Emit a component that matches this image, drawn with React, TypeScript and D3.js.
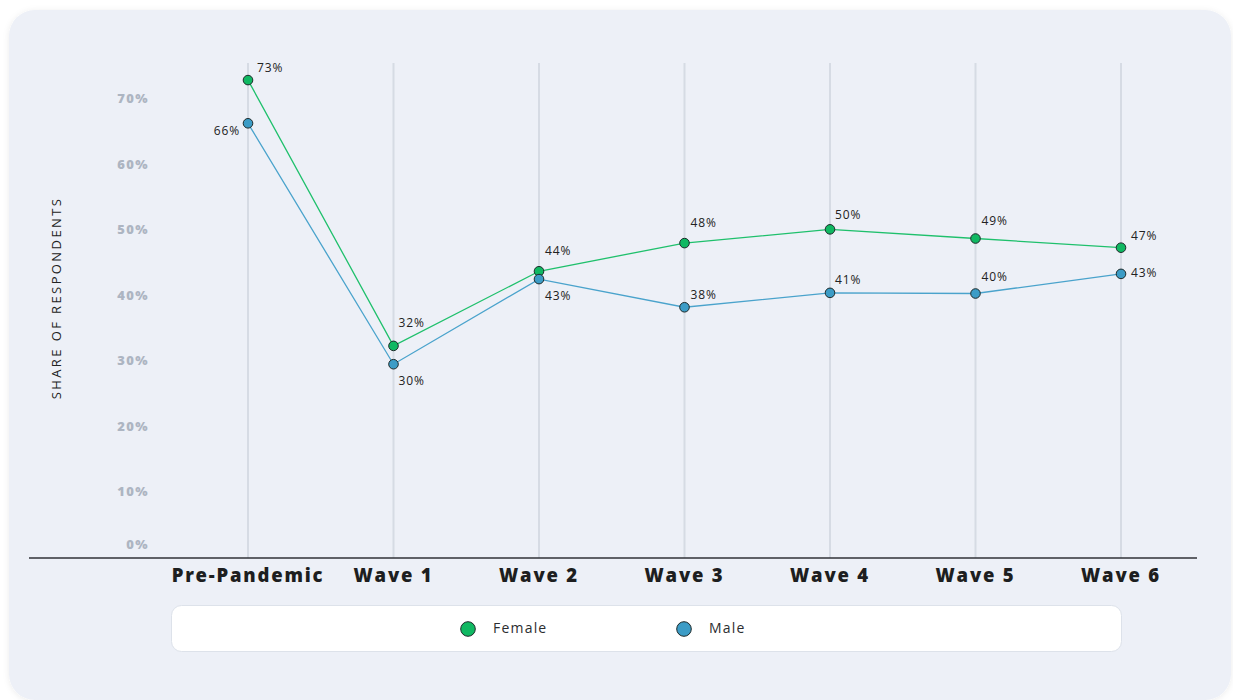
import React from "react";
import * as d3 from "d3";

// Survey waves along the x axis
const categories = ["Pre-Pandemic", "Wave 1", "Wave 2", "Wave 3", "Wave 4", "Wave 5", "Wave 6"];

// Share of respondents (%) per wave
const femaleValues = [73.0, 32.4, 43.8, 48.1, 50.2, 48.8, 47.4];
const maleValues = [66.4, 29.6, 42.6, 38.3, 40.5, 40.4, 43.4];

// Y axis ticks
const yTicks = [0, 10, 20, 30, 40, 50, 60, 70];

// Value label placement relative to each point: [dx, dy, anchor]
const femaleLabelPos: [number, number, string][] = [
  [9, -11, "start"], [5, -22, "start"], [6, -19, "start"], [6, -19, "start"],
  [5, -14, "start"], [6, -17, "start"], [10, -11, "start"],
];
const maleLabelPos: [number, number, string][] = [
  [-8, 8, "end"], [5, 18, "start"], [6, 18, "start"], [6, -11, "start"],
  [5, -12, "start"], [6, -16, "start"], [10, 0, "start"],
];

const W = 1233;
const H = 700;
const FONT = "'Open Sans', Lato, sans-serif";

const series = [
  { name: "Female", values: femaleValues, color: "#10b862", line: "#1fc06c", labels: femaleLabelPos },
  { name: "Male", values: maleValues, color: "#3c9cc6", line: "#4aa3cc", labels: maleLabelPos },
];

export default function App() {
  const x = d3.scalePoint<string>().domain(categories).range([248, 1121]);
  const y = d3.scaleLinear().domain([0, 75]).range([558, 67]);
  const baseY = y(0);

  const line = d3
    .line<number>()
    .x((_, i) => x(categories[i]) as number)
    .y((v) => y(v));

  return (
    <div style={{ position: "absolute", left: 0, top: 0 }}>
      <svg width={W} height={H} style={{ display: "block", fontFamily: FONT }}>
        <defs>
          <filter id="cardShadow" x="-5%" y="-5%" width="110%" height="115%">
            <feDropShadow dx="0" dy="1" stdDeviation="3" floodColor="#000" floodOpacity="0.08" />
          </filter>
        </defs>
        <rect x={0} y={0} width={W} height={H} fill="#ffffff" />
        <rect x={9} y={10} width={1222} height={690} rx={26} fill="#edf0f7" filter="url(#cardShadow)" />

        {/* vertical grid at each wave */}
        {categories.map((c) => (
          <line
            key={c}
            x1={x(c)}
            x2={x(c)}
            y1={63}
            y2={baseY}
            stroke="#d6dbe4"
            strokeWidth={2}
          />
        ))}

        {/* baseline */}
        <line x1={29} x2={1197} y1={baseY} y2={baseY} stroke="#2f3237" strokeWidth={1.3} />

        {/* y tick labels */}
        {yTicks.map((t) => (
          <text
            key={t}
            x={149}
            y={Math.min(y(t), baseY - 12)}
            textAnchor="end"
            dominantBaseline="middle"
            fontSize={13}
            fontWeight={800}
            letterSpacing={1.4}
            fill="#adb5c2"
          >
            {t}%
          </text>
        ))}

        {/* y axis title */}
        <text
          transform={`translate(61, 298) rotate(-90)`}
          textAnchor="middle"
          fontSize={13}
          letterSpacing={2.4}
          fill="#222"
        >
          SHARE OF RESPONDENTS
        </text>

        {/* x labels */}
        {categories.map((c) => (
          <text
            key={c}
            x={x(c)}
            y={582}
            textAnchor="middle"
            fontSize={18.5}
            fontWeight={800}
            letterSpacing={1.8}
            fill="#1d1e20"
          >
            {c}
          </text>
        ))}

        {/* series lines, markers, and value labels */}
        {series.map((s) => (
          <g key={s.name}>
            <path d={line(s.values) || ""} fill="none" stroke={s.line} strokeWidth={1.3} />
            {s.values.map((v, i) => (
              <circle
                key={i}
                cx={x(categories[i])}
                cy={y(v)}
                r={4.8}
                fill={s.color}
                stroke="#1e2a2a"
                strokeWidth={1}
              />
            ))}
            {s.values.map((v, i) => {
              const [dx, dy, anchor] = s.labels[i];
              return (
                <text
                  key={"l" + i}
                  x={(x(categories[i]) as number) + dx}
                  y={y(v) + dy}
                  textAnchor={anchor as any}
                  dominantBaseline="middle"
                  fontSize={12}
                  letterSpacing={0.9}
                  fill="#222"
                >
                  {Math.round(v)}%
                </text>
              );
            })}
          </g>
        ))}

        {/* legend */}
        <rect x={171.5} y={605.5} width={950} height={46} rx={10} fill="#ffffff" stroke="#dde2ea" strokeWidth={1} />
        {series.map((s, i) => {
          const lx = i === 0 ? 468 : 684;
          return (
            <g key={s.name}>
              <circle cx={lx} cy={629} r={7.3} fill={s.color} stroke="#1e2a2a" strokeWidth={1} />
              <text
                x={lx + 25}
                y={629}
                dominantBaseline="middle"
                fontSize={14}
                letterSpacing={1.2}
                fill="#2b2d30"
              >
                {s.name}
              </text>
            </g>
          );
        })}
      </svg>
    </div>
  );
}
